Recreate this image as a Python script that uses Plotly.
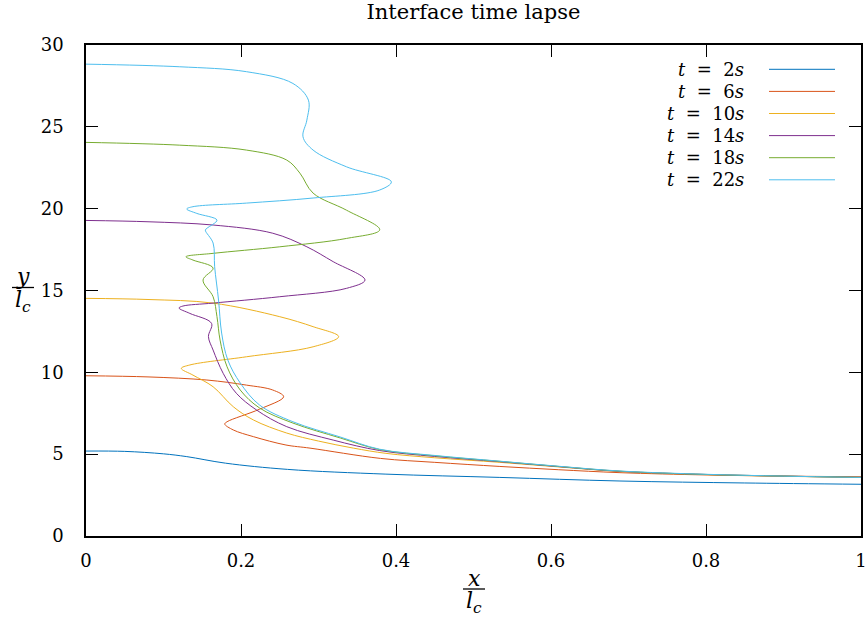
import plotly.graph_objects as go

# ---- data ----
times = ["2", "6", "10", "14", "18", "22"]
colors = ["#0072BD", "#D95319", "#EDB120", "#7E2F8E", "#77AC30", "#4DBEEE"]

x_t2 = [0, 0.05, 0.10, 0.13, 0.18, 0.26, 0.387, 0.534, 0.689, 0.85, 1.0]
y_t2 = [5.19, 5.17, 5.02, 4.85, 4.45, 4.07, 3.78, 3.58, 3.36, 3.24, 3.16]

x_t6 = [0, 0.08, 0.156, 0.207, 0.241, 0.255, 0.224, 0.182, 0.179, 0.19, 0.216, 0.258, 0.289, 0.38, 0.45, 0.534, 0.61, 0.689, 0.8, 0.9, 1.0]
y_t6 = [9.79, 9.72, 9.53, 9.22, 8.92, 8.51, 7.75, 6.98, 6.84, 6.48, 6.07, 5.56, 5.37, 4.74, 4.50, 4.25, 4.05, 3.87, 3.73, 3.66, 3.62]

x_t10 = [0, 0.08, 0.164, 0.25, 0.293, 0.326, 0.293, 0.207, 0.134, 0.123, 0.138, 0.164, 0.19, 0.216, 0.259, 0.3, 0.345, 0.387, 0.45, 0.534, 0.61, 0.689, 0.8, 0.9, 1.0]
y_t10 = [14.52, 14.45, 14.23, 13.4, 12.79, 12.18, 11.56, 10.95, 10.45, 10.24, 9.83, 9.12, 7.9, 7.09, 6.29, 5.8, 5.37, 5.05, 4.78, 4.5, 4.22, 3.94, 3.75, 3.65, 3.58]

x_t14 = [0, 0.08, 0.164, 0.241, 0.285, 0.319, 0.36, 0.336, 0.25, 0.164, 0.125, 0.12, 0.134, 0.162, 0.158, 0.164, 0.177, 0.194, 0.22, 0.259, 0.319, 0.379, 0.45, 0.534, 0.61, 0.689, 0.8, 0.9, 1.0]
y_t14 = [19.28, 19.2, 19.0, 18.5, 17.67, 16.76, 15.64, 15.13, 14.62, 14.23, 14.05, 13.93, 13.6, 12.99, 12.18, 11.36, 9.94, 8.72, 7.7, 6.68, 5.86, 5.22, 4.86, 4.54, 4.24, 3.95, 3.76, 3.66, 3.58]

x_t18 = [0, 0.121, 0.207, 0.259, 0.276, 0.293, 0.336, 0.379, 0.336, 0.25, 0.164, 0.129, 0.138, 0.164, 0.151, 0.164, 0.169, 0.173, 0.182, 0.199, 0.224, 0.267, 0.328, 0.379, 0.45, 0.534, 0.61, 0.689, 0.8, 0.9, 1.0]
y_t18 = [24.05, 23.88, 23.58, 22.97, 22.17, 20.95, 19.91, 18.71, 18.18, 17.67, 17.27, 17.06, 16.86, 16.37, 15.64, 14.62, 13.4, 11.97, 10.34, 8.92, 7.82, 6.9, 5.99, 5.28, 4.9, 4.56, 4.25, 3.96, 3.76, 3.66, 3.58]

x_t22 = [0, 0.121, 0.207, 0.267, 0.287, 0.285, 0.28, 0.293, 0.336, 0.394, 0.379, 0.293, 0.207, 0.138, 0.13, 0.143, 0.169, 0.156, 0.154, 0.164, 0.166, 0.171, 0.175, 0.183, 0.199, 0.224, 0.267, 0.328, 0.379, 0.45, 0.534, 0.61, 0.689, 0.8, 0.9, 1.0]
y_t22 = [28.83, 28.67, 28.37, 27.65, 26.63, 25.41, 24.39, 23.58, 22.56, 21.64, 21.14, 20.65, 20.34, 20.12, 19.98, 19.71, 19.3, 18.8, 18.69, 17.9, 16.45, 14.42, 12.4, 10.75, 9.35, 8.0, 6.98, 6.05, 5.3, 4.92, 4.57, 4.26, 3.97, 3.77, 3.66, 3.58]

series_x = [x_t2, x_t6, x_t10, x_t14, x_t18, x_t22]
series_y = [y_t2, y_t6, y_t10, y_t14, y_t18, y_t22]

x_ticks = [0, 0.2, 0.4, 0.6, 0.8, 1]
x_ticklabels = ["0", "0.2", "0.4", "0.6", "0.8", "1"]
y_ticks = [0, 5, 10, 15, 20, 25, 30]

# ---- layout geometry (pixels) ----
W, H = 866, 621
L, R, T, B = 86, 861, 45, 536   # plot area
FONT = "DejaVu Serif"

def px(xp):
    return (xp - L) / (R - L)

def py(yp):
    return (B - yp) / (B - T)

fig = go.Figure()
for xs, ys, c, t in zip(series_x, series_y, colors, times):
    fig.add_trace(go.Scatter(x=xs, y=ys, mode="lines", name=f"t = {t}s",
                             line=dict(color=c, width=1, shape="spline", smoothing=1.0),
                             showlegend=False))

annotations = []
shapes = []

# manual legend (text left, sample right)
for i, (c, t) in enumerate(zip(colors, times)):
    yrow = 69.3 + 22.1 * i
    annotations.append(dict(x=px(745.7), y=py(yrow), xref="paper", yref="paper",
                            xanchor="right", yanchor="middle", showarrow=False,
                            text=f"<i>t</i>&nbsp;&nbsp;=&nbsp;&nbsp;{t}<i>s</i>",
                            font=dict(family=FONT, size=18, color="black")))
    shapes.append(dict(type="line", xref="paper", yref="paper",
                       x0=px(769), x1=px(835), y0=py(yrow), y1=py(yrow),
                       line=dict(color=c, width=1)))

# x-axis label fraction
annotations.append(dict(x=px(474), y=py(578), xref="paper", yref="paper", showarrow=False,
                        text="<i>x</i>", font=dict(family=FONT, size=22, color="black"),
                        xanchor="center", yanchor="middle"))
shapes.append(dict(type="line", xref="paper", yref="paper", x0=px(463), x1=px(485),
                   y0=py(589), y1=py(589), line=dict(color="black", width=1.3)))
annotations.append(dict(x=px(474), y=py(602), xref="paper", yref="paper", showarrow=False,
                        text="<i>l</i><sub><i>c</i></sub>", font=dict(family=FONT, size=22, color="black"),
                        xanchor="center", yanchor="middle"))

# y-axis label fraction
annotations.append(dict(x=px(23), y=py(276), xref="paper", yref="paper", showarrow=False,
                        text="<i>y</i>", font=dict(family=FONT, size=22, color="black"),
                        xanchor="center", yanchor="middle"))
shapes.append(dict(type="line", xref="paper", yref="paper", x0=px(12), x1=px(34),
                   y0=py(287.5), y1=py(287.5), line=dict(color="black", width=1.3)))
annotations.append(dict(x=px(23), y=py(301), xref="paper", yref="paper", showarrow=False,
                        text="<i>l</i><sub><i>c</i></sub>", font=dict(family=FONT, size=22, color="black"),
                        xanchor="center", yanchor="middle"))

axis_common = dict(showgrid=False, zeroline=False, showline=True, linecolor="black", linewidth=1.5,
                   mirror="allticks", ticks="inside", ticklen=12, tickwidth=1, tickcolor="black",
                   automargin=False, ticklabeloverflow="allow",
                   tickfont=dict(family=FONT, size=18, color="black"))

fig.update_layout(
    width=W, height=H,
    margin=dict(l=L, r=W - R, t=T, b=H - B, pad=0),
    paper_bgcolor="white", plot_bgcolor="white",
    title=dict(text="Interface time lapse", x=0.5, xref="paper", yref="container",
               y=1 - 12 / H, yanchor="middle",
               font=dict(family=FONT, size=21, color="black")),
    xaxis=dict(range=[0, 1], tickvals=x_ticks, ticktext=x_ticklabels, ticklabelstandoff=8, **axis_common),
    yaxis=dict(range=[0, 30], tickvals=y_ticks, ticklabelstandoff=17, **axis_common),
    annotations=annotations, shapes=shapes, showlegend=False,
)
fig.write_html("out.html", config={"displayModeBar": False},
               post_script="document.body.style.margin='0';document.body.style.overflow='hidden';")
